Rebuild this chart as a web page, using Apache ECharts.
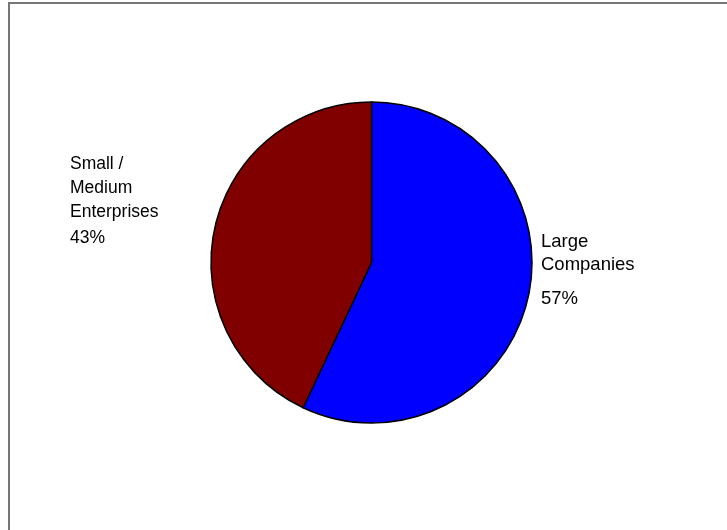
<!DOCTYPE html>
<html>
<head>
<meta charset="utf-8">
<script src="https://cdn.jsdelivr.net/npm/echarts@6/dist/echarts.min.js"></script>
<style>html,body{margin:0;padding:0;background:#fff}#c{width:727px;height:530px}</style>
</head>
<body>
<div id="c"></div>
<script>
const categories = ['Large\nCompanies', 'Small /\nMedium\nEnterprises'];
const values = [57, 43];
const colors = ['#0000FF', '#800000'];

const chart = echarts.init(document.getElementById('c'), null, {renderer: 'canvas'});
const FONT = 'Liberation Sans, Arial, sans-serif';
const labelStyle = [
  {x: 541, y: 230, size: 18.5, lh: 23, plh: 46},
  {x: 70, y: 152, size: 17.5, lh: 24, plh: 28}
];
const data = categories.map((c, i) => ({
  name: c,
  value: values[i],
  itemStyle: {color: colors[i]},
  label: {
    fontSize: labelStyle[i].size,
    lineHeight: labelStyle[i].lh,
    rich: {p: {fontSize: labelStyle[i].size, fontFamily: FONT, color: '#000', lineHeight: labelStyle[i].plh}}
  }
}));
chart.setOption({
  animation: false,
  backgroundColor: '#fff',
  graphic: [{
    type: 'rect', shape: {x: 9, y: 3, width: 800, height: 600},
    style: {fill: 'none', stroke: '#777', lineWidth: 2}, silent: true
  }],
  series: [{
    type: 'pie',
    center: [371.5, 262.5],
    radius: 160.5,
    startAngle: 90,
    clockwise: true,
    data: data,
    itemStyle: {borderColor: '#000', borderWidth: 1.5},
    label: {
      show: true,
      position: 'outside',
      fontFamily: FONT,
      color: '#000',
      formatter: p => p.name + '\n{p|' + Math.round(p.percent) + '%}'
    },
    labelLine: {show: false},
    labelLayout: function (params) {
      const s = labelStyle[params.dataIndex];
      return {x: s.x, y: s.y, align: 'left', verticalAlign: 'top'};
    },
    emphasis: {disabled: true}
  }]
});
</script>
</body>
</html>
